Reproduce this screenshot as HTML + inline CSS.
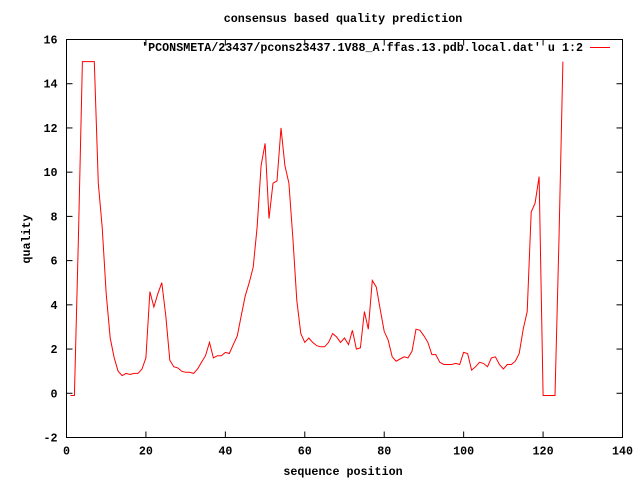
<!DOCTYPE html>
<html><head><meta charset="utf-8"><style>
body{margin:0;background:#fff;}
svg text{font-family:"Liberation Mono",monospace;font-weight:bold;font-size:11.7px;fill:#000;}
</style></head><body>
<svg id="chart" width="640" height="480" viewBox="0 0 640 480" xmlns="http://www.w3.org/2000/svg">
<rect x="0" y="0" width="640" height="480" fill="#fff"/>
<text x="343" y="22" text-anchor="middle">consensus based quality prediction</text>
<text x="343" y="475" text-anchor="middle">sequence position</text>
<text x="0" y="0" text-anchor="middle" transform="translate(30,239) rotate(-90)">quality</text>
<g id="axes"></g>
<rect x="66.5" y="39.5" width="556" height="398" fill="none" stroke="#000" stroke-width="1"/>
<path id="series" fill="none" stroke="#f00" stroke-width="1"/>
<text x="583" y="51" text-anchor="end">'PCONSMETA/23437/pcons23437.1V88_A.ffas.13.pdb.local.dat' u 1:2</text>
<line x1="590" y1="47.5" x2="610" y2="47.5" stroke="#f00" stroke-width="1"/>
</svg>
<script>
const xTicks=[0,20,40,60,80,100,120,140];
const yTicks=[-2,0,2,4,6,8,10,12,14,16];
const quality=[-0.1,-0.1,7,15,15,15,15,9.5,7.5,4.5,2.5,1.6,1.0,0.8,0.9,0.85,0.9,0.9,1.1,1.6,
4.6,3.9,4.5,5.0,3.5,1.5,1.2,1.15,1.0,0.95,0.95,0.9,1.1,1.4,1.7,2.3,1.6,1.7,1.7,1.85,
1.8,2.2,2.6,3.5,4.4,5.0,5.7,7.5,10.3,11.3,7.9,9.5,9.6,12.0,10.3,9.5,7.0,4.2,2.7,2.3,
2.5,2.3,2.15,2.1,2.1,2.3,2.7,2.55,2.3,2.5,2.2,2.85,2.0,2.05,3.7,2.9,5.1,4.8,3.8,2.8,
2.4,1.65,1.45,1.55,1.65,1.6,1.9,2.9,2.85,2.6,2.3,1.75,1.75,1.4,1.3,1.3,1.3,1.35,1.3,1.85,
1.8,1.05,1.2,1.4,1.35,1.2,1.6,1.65,1.3,1.1,1.3,1.3,1.45,1.8,2.9,3.7,8.2,8.6,9.8,-0.1,
-0.1,-0.1,-0.1,7,15];
const positions=quality.map((v,i)=>i+1);
const X0=66.5,X1=622.5,Y0=437.5,Y1=39.5;
const sx=v=>X0+(v-0)/(140-0)*(X1-X0);
const sy=v=>Y0-(v-(-2))/(16-(-2))*(Y0-Y1);
const ns="http://www.w3.org/2000/svg";
const ax=document.getElementById('axes');
function mk(tag,attrs){const e=document.createElementNS(ns,tag);for(const k in attrs)e.setAttribute(k,attrs[k]);ax.appendChild(e);return e;}
xTicks.forEach(t=>{
  const x=sx(t);
  const a=mk('line',{x1:x,y1:Y0,x2:x,y2:Y0-6,stroke:'#000'});
  
  
  const b=mk('line',{x1:x,y1:Y1,x2:x,y2:Y1+6,stroke:'#000'});
  
  
  const l=mk('text',{x:x,y:Y0+17,'text-anchor':'middle'});
  l.textContent=t;
  
  
});
yTicks.forEach(t=>{
  const y=sy(t);
  const a=mk('line',{x1:X0,y1:y,x2:X0+6,y2:y,stroke:'#000'});
  
  
  const b=mk('line',{x1:X1,y1:y,x2:X1-6,y2:y,stroke:'#000'});
  
  
  const l=mk('text',{x:X0-9,y:y+4,'text-anchor':'end'});
  l.textContent=t;
  
  
});
document.getElementById('series').setAttribute('d',quality.map((v,i)=>(i?'L':'M')+sx(positions[i]).toFixed(1)+','+sy(v).toFixed(1)).join(''));
</script>
</body></html>
